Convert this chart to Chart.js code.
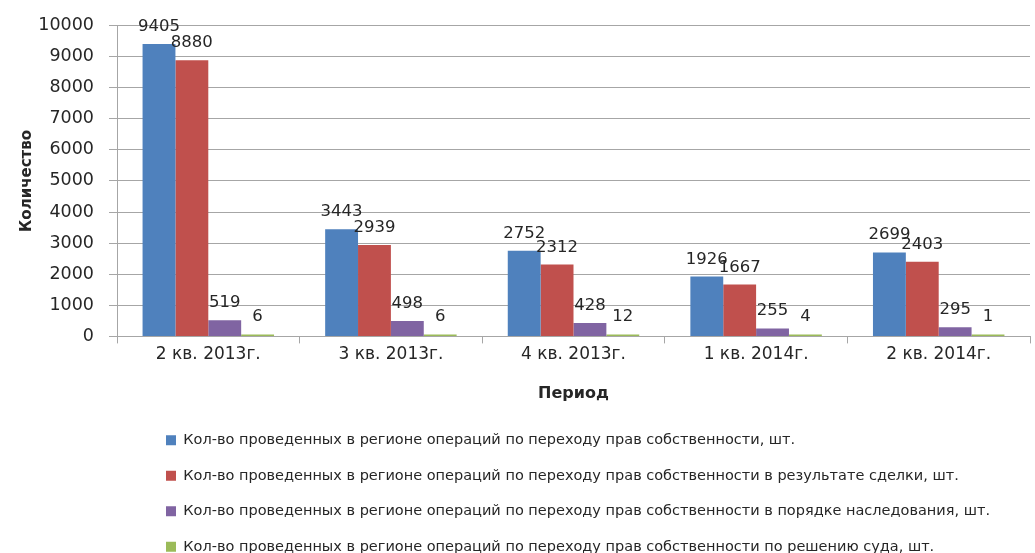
<!DOCTYPE html>
<html lang="ru">
<head>
<meta charset="utf-8">
<title>Операции по переходу прав собственности</title>
<script src="https://cdn.jsdelivr.net/npm/chart.js@4"></script>
<style>
  html, body { margin: 0; padding: 0; background: #fff; }
  #wrap { width: 1035px; height: 553px; position: relative; }
</style>
</head>
<body>
<div id="wrap"><canvas id="chart"></canvas></div>
<script>
// Периоды (категории)
const periods = ['2 кв. 2013г.', '3 кв. 2013г.', '4 кв. 2013г.', '1 кв. 2014г.', '2 кв. 2014г.'];

// Ряды
const totalOps = [9405, 3443, 2752, 1926, 2699];
const dealOps = [8880, 2939, 2312, 1667, 2403];
const inheritOps = [519, 498, 428, 255, 295];
const courtOps = [6, 6, 12, 4, 1];

const seriesNames = [
  'Кол-во проведенных в регионе операций по переходу прав собственности, шт.',
  'Кол-во проведенных в регионе операций по переходу прав собственности в результате сделки, шт.',
  'Кол-во проведенных в регионе операций по переходу прав собственности в порядке наследования, шт.',
  'Кол-во проведенных в регионе операций по переходу прав собственности по решению суда, шт.'
];

// Ось Y
const yTicks = [0, 1000, 2000, 3000, 4000, 5000, 6000, 7000, 8000, 9000, 10000];

const FONT = '"DejaVu Sans", sans-serif';
const TEXT = '#262626';
const GRID = '#a6a6a6';

/**
 * Draws value labels above each bar.
 */
const valueLabels = {
  id: 'valueLabels',
  afterDatasetsDraw(chart) {
    const ctx = chart.ctx;
    ctx.save();
    ctx.font = '16.5px ' + FONT;
    ctx.fillStyle = TEXT;
    ctx.textAlign = 'center';
    ctx.textBaseline = 'alphabetic';
    chart.data.datasets.forEach((ds, i) => {
      const meta = chart.getDatasetMeta(i);
      meta.data.forEach((bar, j) => {
        ctx.fillText(String(ds.data[j]), bar.x, bar.y - 13);
      });
    });
    ctx.restore();
  }
};

/**
 * Legend placed on the left and a bit lower, like in Excel.
 */
const legendShift = {
  id: 'legendShift',
  beforeLayout(chart) {
    const lg = chart.legend;
    if (lg && !lg._patched) {
      const fit = lg.fit.bind(lg);
      lg.fit = function () {
        fit();
        this.height -= 2;
      };
      lg._patched = true;
    }
  },
  afterLayout(chart) {
    const lg = chart.legend;
    if (!lg) return;
    lg.left = 145;
    lg.top += 9;
  }
};

function makeDataset(label, data, color, minLen) {
  return {
    label: label,
    data: data,
    backgroundColor: color,
    borderColor: color,
    borderWidth: 0,
    minBarLength: minLen || 0
  };
}

function init() {
  const canvas = document.getElementById('chart');
  new Chart(canvas, {
    type: 'bar',
    data: {
      labels: periods,
      datasets: [
        makeDataset(seriesNames[0], totalOps, '#4f81bd'),
        makeDataset(seriesNames[1], dealOps, '#c0504d'),
        makeDataset(seriesNames[2], inheritOps, '#8064a2'),
        makeDataset(seriesNames[3], courtOps, '#9bbb59', 2)
      ]
    },
    options: {
      responsive: true,
      maintainAspectRatio: false,
      animation: false,
      layout: { padding: { top: 9, left: 14, right: 5, bottom: 0 } },
      datasets: {
        bar: { barPercentage: 1, categoryPercentage: 0.72 }
      },
      plugins: {
        legend: {
          position: 'bottom',
          align: 'start',
          labels: {
            font: { family: FONT, size: 14.5 },
            color: TEXT,
            boxWidth: 10,
            boxHeight: 10,
            padding: 21
          }
        },
        tooltip: { enabled: false }
      },
      scales: {
        x: {
          grid: {
            offset: true,
            drawOnChartArea: false,
            tickLength: 7,
            color: GRID
          },
          border: { color: GRID },
          ticks: {
            font: { family: FONT, size: 17 },
            color: TEXT,
            padding: 1
          },
          title: {
            display: true,
            text: 'Период',
            font: { family: FONT, size: 16, weight: 'bold' },
            color: TEXT,
            padding: { top: 18, bottom: 0 }
          }
        },
        y: {
          min: 0,
          max: 10000,
          afterBuildTicks: (scale) => {
            scale.ticks = yTicks.map(v => ({ value: v }));
          },
          afterFit: (scale) => {
            scale.width = 103;
          },
          grid: { color: GRID, tickLength: 8 },
          border: { color: GRID },
          ticks: {
            font: { family: FONT, size: 17.5 },
            color: TEXT,
            padding: 15,
            callback: (value) => String(value)
          },
          title: {
            display: true,
            text: 'Количество',
            font: { family: FONT, size: 15, weight: 'bold' },
            color: TEXT,
            padding: { top: 4, bottom: 4 }
          }
        }
      }
    },
    plugins: [valueLabels, legendShift]
  });
}

init();
</script>
</body>
</html>
